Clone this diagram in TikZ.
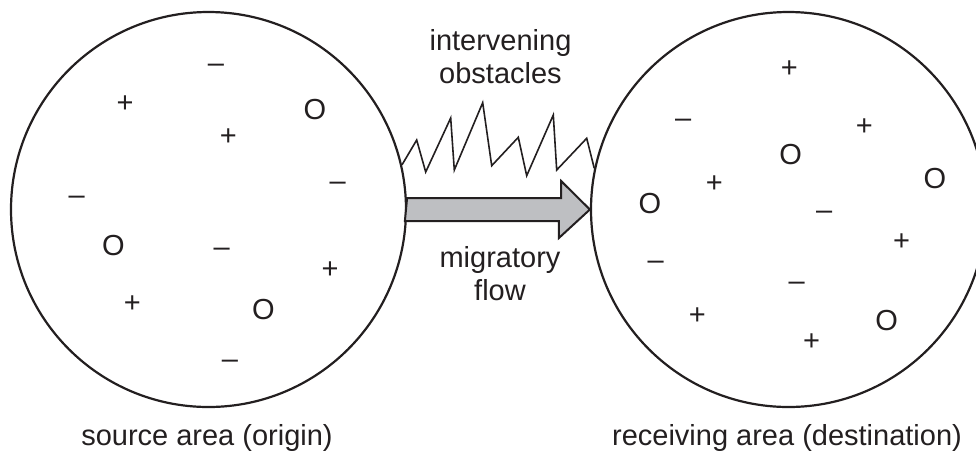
\documentclass[tikz,border=0pt]{standalone}
\usepackage{fontspec}
\setmainfont{Liberation Sans}
\usepackage{xcolor}
\usepackage{tikz}

\definecolor{flowgray}{HTML}{BEBFC2}
\definecolor{inkdark}{HTML}{231F20}
\newcommand{\labelfont}{\fontsize{14.5}{16.7}\selectfont}

\begin{document}
\begin{tikzpicture}[x=0.5pt,y=-0.5pt,color=inkdark,
    area/.style={draw,circle,line width=1.1pt,minimum size=197.5pt,inner sep=0pt},
    charge/.style={font=\labelfont,anchor=base,inner sep=0pt},
    caption/.style={font=\labelfont,align=center,inner sep=0pt}]
    \clip (0,0) rectangle (976,452);
    % The two areas
    \node[area] (source) at (208.5,209.5) {};
    \node[area] (dest) at (788.5,209.5) {};
    % Obstacles between them
    \draw[line width=0.8pt,line join=miter] (source.13) -- (416.7,140) -- (425.7,172)
        -- (450.7,118) -- (454.3,170) -- (482.7,102.7) -- (491.7,165.7) -- (518.3,137.3)
        -- (526.7,175.7) -- (553.3,115) -- (556.7,170) -- (586.7,138.3) -- (dest.168.5);
    % Flow arrow
    \draw[line width=1pt,fill=flowgray,line join=miter] (source.east) ++(0,-11.5)
        -- ++(154,0) -- ++(0,-17) -- (dest.west) -- ++(-31,28.5) -- ++(0,-17)
        -- ++(-154,0) -- cycle;
    % Plus signs
    \foreach \x/\y [count=\i] in {125/102.7, 228.3/135, 330/268.3, 132.3/302.7,
        789.3/67.7, 864.3/125, 714.3/182.7, 901.7/240, 697.3/314, 811.7/340.7} {
        \node[charge] (plus\i) at (\x,\y+10.2) {+};
    }
    % Minus signs
    \foreach \x/\y [count=\i] in {216/64.3, 76.7/196.7, 337.7/182.7, 221.7/248.3, 230/360,
        683.3/119.3, 824.3/211.7, 655.7/261, 796.7/282.7} {
        \node[charge] (minus\i) at (\x,\y+8) {\textendash};
    }
    % Neutral ones
    \foreach \x/\y [count=\i] in {315/109.3, 113.3/245, 263.3/309.3,
        790.7/154, 935/178.3, 650/203.3, 886.7/320} {
        \node[charge] (zero\i) at (\x,\y+10.4) {O};
    }
    % Labels
    \node[caption,anchor=north] (obstacles) at (500.5,29) {intervening\\obstacles};
    \node[caption,anchor=north] (flow) at (500,246) {migratory\\flow};
    \node[caption,anchor=base] (sourcelabel) at (207,445) {source area (origin)};
    \node[caption,anchor=base] (destlabel) at (787,445) {receiving area (destination)};
\end{tikzpicture}
\end{document}
